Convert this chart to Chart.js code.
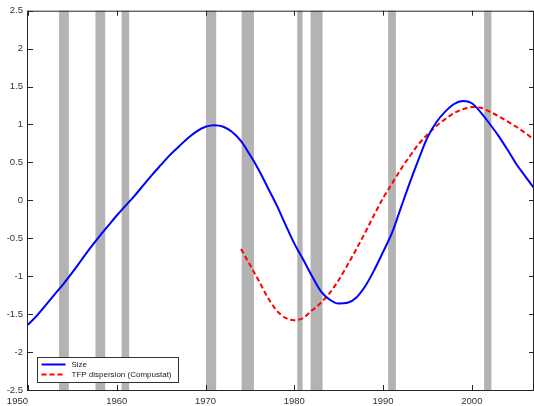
<!DOCTYPE html>
<html>
<head>
<meta charset="utf-8">
<script src="https://cdn.jsdelivr.net/npm/chart.js@4.4.0/dist/chart.umd.min.js"></script>
<style>
  html, body { margin: 0; padding: 0; background: #fff; }
  #wrap { width: 534px; height: 406px; }
</style>
</head>
<body>
<div id="wrap"><canvas id="chart"></canvas></div>
<script>
// Size (blue), yearly
const sizeYears = [1950,1951,1952,1953,1954,1955,1956,1957,1958,1959,
                   1960,1961,1962,1963,1964,1965,1966,1967,1968,1969,
                   1970,1971,1972,1973,1974,1975,1976,1977,1978,1979,
                   1980,1981,1982,1983,1984,1985,1986,1987,1988,1989,
                   1990,1991,1992,1993,1994,1995,1996,1997,1998,1999,
                   2000,2001,2002,2003,2004,2005,2006,2007];
const sizeValues = [-1.64,-1.52,-1.38,-1.24,-1.10,-0.95,-0.79,-0.63,-0.48,-0.34,
                    -0.20,-0.07,0.06,0.20,0.34,0.47,0.60,0.71,0.82,0.91,
                    0.97,0.99,0.97,0.90,0.78,0.60,0.40,0.17,-0.06,-0.32,
                    -0.57,-0.78,-1.00,-1.20,-1.31,-1.36,-1.35,-1.28,-1.13,-0.92,
                    -0.68,-0.43,-0.10,0.23,0.54,0.83,1.03,1.17,1.27,1.31,
                    1.28,1.16,1.01,0.85,0.67,0.48,0.32,0.16];

// TFP dispersion (red dashed), yearly
const tfpYears = [1974,1975,1976,1977,1978,1979,1980,1981,1982,1983,
                  1984,1985,1986,1987,1988,1989,1990,1991,1992,1993,
                  1994,1995,1996,1997,1998,1999,2000,2001,2002,2003,
                  2004,2005,2006,2007];
const tfpValues = [-0.64,-0.85,-1.06,-1.28,-1.45,-1.55,-1.58,-1.55,-1.45,-1.35,
                   -1.22,-1.05,-0.85,-0.64,-0.42,-0.19,0.03,0.22,0.41,0.58,
                   0.74,0.87,0.98,1.07,1.15,1.20,1.23,1.22,1.17,1.11,
                   1.04,0.97,0.89,0.80];

// recession shading
const recessionStart = [1953.5, 1957.6, 1960.55, 1970.05, 1974.07, 1980.33, 1981.83, 1990.57, 2001.38];
const recessionEnd   = [1954.6, 1958.7, 1961.4, 1971.2, 1975.45, 1980.93, 1983.18, 1991.44, 2002.2];

const xTicks = [1950, 1960, 1970, 1980, 1990, 2000];
const yTicks = [-2.5, -2, -1.5, -1, -0.5, 0, 0.5, 1, 1.5, 2, 2.5];

const decor = {
  id: 'decor',
  beforeDatasetsDraw(chart) {
    const {ctx, chartArea: a, scales: {x}} = chart;
    ctx.save();
    ctx.fillStyle = '#b3b3b3';
    for (let i = 0; i < recessionStart.length; i++) {
      const x0 = x.getPixelForValue(recessionStart[i]);
      const x1 = x.getPixelForValue(recessionEnd[i]);
      ctx.fillRect(x0, a.top, x1 - x0, a.bottom - a.top);
    }
    ctx.restore();
  },
  afterDatasetsDraw(chart) {
    const {ctx, chartArea: a, scales: {x, y}} = chart;
    ctx.save();
    // frame
    ctx.strokeStyle = '#262626';
    ctx.lineWidth = 1;
    ctx.strokeRect(a.left - 0.5, a.top + 0.5, a.right - a.left, a.bottom - a.top);
    // inward ticks
    ctx.beginPath();
    xTicks.forEach(t => {
      const px = Math.round(x.getPixelForValue(t)) + 0.5;
      ctx.moveTo(px, a.bottom); ctx.lineTo(px, a.bottom - 5);
      ctx.moveTo(px, a.top); ctx.lineTo(px, a.top + 5);
    });
    yTicks.forEach(t => {
      const py = Math.round(y.getPixelForValue(t)) + 0.5;
      ctx.moveTo(a.left, py); ctx.lineTo(a.left + 5, py);
      ctx.moveTo(a.right, py); ctx.lineTo(a.right - 5, py);
    });
    ctx.stroke();
    // x labels (first one sits left of its tick, as in the original)
    ctx.fillStyle = '#333';
    ctx.font = '9.5px "Liberation Sans", Arial, sans-serif';
    ctx.textBaseline = 'middle';
    xTicks.forEach((t, i) => {
      ctx.textAlign = i === 0 ? 'right' : 'center';
      ctx.fillText(String(t), x.getPixelForValue(t), 401);
    });
    // legend
    const lx = 37.5, ly = 357.5, lw = 141, lh = 25;
    ctx.fillStyle = '#fff';
    ctx.fillRect(lx, ly, lw, lh);
    ctx.strokeStyle = '#333';
    ctx.strokeRect(lx, ly, lw, lh);
    ctx.font = '8px "Liberation Sans", Arial, sans-serif';
    ctx.textAlign = 'left';
    chart.data.datasets.forEach((ds, i) => {
      const ry = ly + 7 + i * 10;
      ctx.strokeStyle = ds.borderColor;
      ctx.lineWidth = 2;
      ctx.setLineDash(ds.borderDash || []);
      ctx.beginPath();
      ctx.moveTo(lx + 4, ry); ctx.lineTo(lx + 28, ry);
      ctx.stroke();
      ctx.setLineDash([]);
      ctx.fillStyle = '#222';
      ctx.fillText(ds.label, lx + 34, ry);
    });
    ctx.restore();
  }
};

new Chart(document.getElementById('chart'), {
  type: 'line',
  data: {
    datasets: [{
      label: 'Size',
      data: sizeYears.map((yr, i) => ({x: yr, y: sizeValues[i]})),
      borderColor: '#0000ff',
      borderWidth: 2,
      pointRadius: 0,
      cubicInterpolationMode: 'monotone'
    }, {
      label: 'TFP dispersion (Compustat)',
      data: tfpYears.map((yr, i) => ({x: yr, y: tfpValues[i]})),
      borderColor: '#ff0000',
      borderWidth: 2,
      borderDash: [5, 3],
      pointRadius: 0,
      cubicInterpolationMode: 'monotone'
    }]
  },
  options: {
    responsive: true,
    maintainAspectRatio: false,
    animation: false,
    devicePixelRatio: 1,
    layout: { padding: { top: 10, left: 0, right: 0, bottom: 0 } },
    plugins: { legend: { display: false }, tooltip: { enabled: false } },
    scales: {
      x: {
        type: 'linear',
        min: 1950,
        max: 2007,
        ticks: { display: false },
        grid: { display: false, drawTicks: false },
        border: { display: false },
        afterFit(s) { s.height = 16; }
      },
      y: {
        min: -2.5,
        max: 2.5,
        afterBuildTicks(s) { s.ticks = yTicks.map(v => ({value: v})); },
        ticks: {
          callback: v => String(v),
          color: '#333',
          padding: 5,
          font: { family: '"Liberation Sans", Arial, sans-serif', size: 9.5 }
        },
        grid: { display: false, drawTicks: false },
        border: { display: false },
        afterFit(s) { s.width = 28; }
      }
    }
  },
  plugins: [decor]
});
</script>
</body>
</html>
